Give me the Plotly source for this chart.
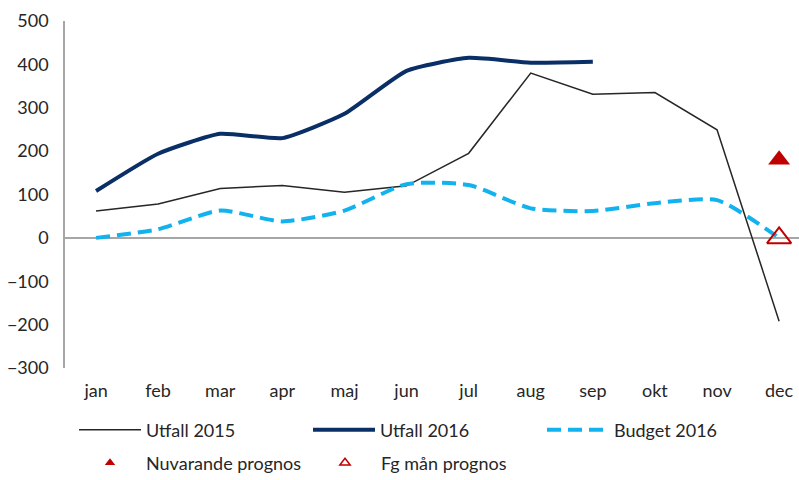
import plotly.graph_objects as go

months = ["jan", "feb", "mar", "apr", "maj", "jun", "jul", "aug", "sep", "okt", "nov", "dec"]
utfall_2015 = [62, 78, 114, 121, 105, 120, 195, 380, 331, 335, 249, -192]
utfall_2016 = [108, 194, 240, 230, 286, 385, 415, 404, 406]
budget_2016 = [0, 20, 63, 38, 63, 124, 122, 68, 62, 80, 87, 0]
nuvarande_prognos = [180]
fg_man_prognos = [0]
prognos_month = ["dec"]

FONT = "Lato, Roboto, sans-serif"
TXT = "#262626"
RED = "#c00000"

W, H = 799, 480

fig = go.Figure()
fig.add_trace(go.Scatter(x=months, y=utfall_2015, mode="lines", name="Utfall 2015",
                         line=dict(color="#262626", width=1.5), legend="legend"))
fig.add_trace(go.Scatter(x=months[:len(utfall_2016)], y=utfall_2016, mode="lines", name="Utfall 2016",
                         line=dict(color="#0a2f66", width=4, shape="spline", smoothing=0.5), legend="legend2"))
fig.add_trace(go.Scatter(x=months, y=budget_2016, mode="lines", name="Budget 2016",
                         line=dict(color="#12b2ee", width=4, dash="14px,7px", shape="spline", smoothing=0.6),
                         legend="legend3"))
fig.add_trace(go.Scatter(x=prognos_month, y=nuvarande_prognos, mode="markers", name="Nuvarande prognos",
                         marker=dict(symbol="triangle-up", size=19, color=RED),
                         showlegend=False, legendgroup="np"))
fig.add_trace(go.Scatter(x=prognos_month, y=fg_man_prognos, mode="markers", name="Fg mån prognos",
                         marker=dict(symbol="triangle-up-open", size=21, color=RED,
                                     line=dict(width=2, color=RED)),
                         showlegend=False, legendgroup="fg"))
# legend-only entries (smaller symbols, like the reference legend)
fig.add_trace(go.Scatter(x=[None], y=[None], mode="markers", name="Nuvarande prognos",
                         marker=dict(symbol="triangle-up", size=9, color=RED),
                         legend="legend4", legendgroup="np"))
fig.add_trace(go.Scatter(x=[None], y=[None], mode="markers", name="Fg mån prognos",
                         marker=dict(symbol="triangle-up-open", size=9, color=RED,
                                     line=dict(width=1.5, color=RED)),
                         legend="legend5", legendgroup="fg"))


def leg(xpx, ypx):
    return dict(orientation="h", xref="container", x=xpx / W, xanchor="left",
                yref="container", y=1 - ypx / H, yanchor="middle",
                itemwidth=62, font=dict(size=18, color=TXT),
                bgcolor="rgba(0,0,0,0)", itemclick=False)


fig.update_layout(
    width=W, height=H,
    margin=dict(l=65, r=0, t=21, b=112),
    paper_bgcolor="white", plot_bgcolor="white",
    font=dict(family=FONT, size=18, color=TXT),
    xaxis=dict(type="category", range=[-0.5, 11.32], showgrid=False, zeroline=False,
               showline=False, ticks="", ticklabelstandoff=10, automargin=False,
               tickfont=dict(family=FONT, size=18, color=TXT)),
    yaxis=dict(range=[-300, 500], dtick=100, showgrid=False, zeroline=True,
               zerolinecolor="#a6a6a6", zerolinewidth=1.5, showline=True,
               linecolor="#a6a6a6", linewidth=1.5, ticks="", ticklabelstandoff=11,
               automargin=False,
               tickfont=dict(family=FONT, size=18, color=TXT)),
    legend=leg(74, 430),
    legend2=leg(308, 430),
    legend3=leg(542, 430),
    legend4=leg(74, 463),
    legend5=leg(309, 463),
    showlegend=True,
)

fig.write_html("out.html", config={"displayModeBar": False},
               post_script="document.body.style.margin='0';document.body.style.overflow='hidden';")
